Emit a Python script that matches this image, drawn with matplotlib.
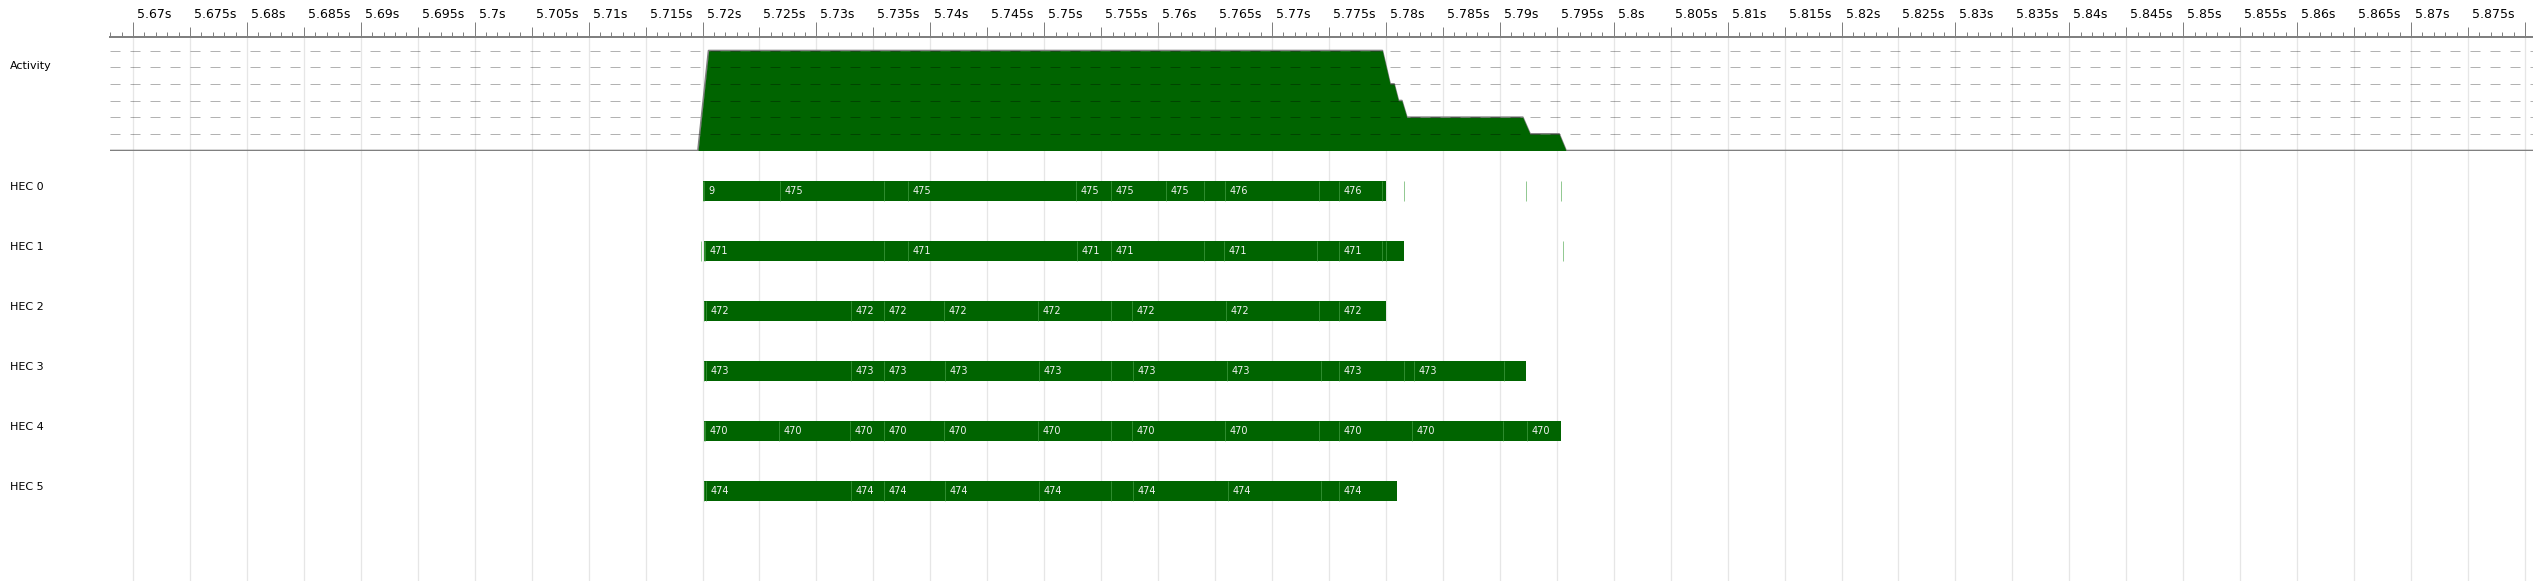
import matplotlib
matplotlib.use('Agg')
import matplotlib.pyplot as plt
import matplotlib.transforms as mtransforms
from matplotlib.ticker import MultipleLocator, FixedLocator
import numpy as np

# time window shown (seconds)
t_min, t_max = 5.66798, 5.88071

# activity = number of busy HECs over time
activity_t = [5.66798, 5.71961, 5.72054, 5.77968, 5.78036, 5.78071, 5.78109, 5.78139,
              5.78183, 5.79201, 5.79265, 5.79520, 5.79581, 5.88071]
activity_n = [0, 0, 6, 6, 4, 4, 3, 3, 2, 2, 1, 1, 0, 0]

lane_names = ['HEC 0', 'HEC 1', 'HEC 2', 'HEC 3', 'HEC 4', 'HEC 5']

# slices per HEC: (start, end, label)
hec0 = [(5.72002, 5.72013, ''), (5.72013, 5.72678, '9'), (5.72678, 5.73596, '475'),
        (5.73596, 5.73802, '475'), (5.73802, 5.75282, '475'), (5.75282, 5.75589, '475'),
        (5.75589, 5.76072, '475'), (5.76072, 5.76406, '475'), (5.76406, 5.76587, '476'),
        (5.76587, 5.77415, '476'), (5.77415, 5.77591, '476'), (5.77591, 5.77968, '476'),
        (5.77968, 5.78001, '476')]
hec1 = [(5.72013, 5.72025, ''), (5.72025, 5.73596, '471'), (5.73596, 5.73807, '471'),
        (5.73807, 5.75291, '471'), (5.75291, 5.75589, '471'), (5.75589, 5.76406, '471'),
        (5.76406, 5.76579, '471'), (5.76579, 5.77398, '471'), (5.77398, 5.77591, '471'),
        (5.77591, 5.77968, '471'), (5.77968, 5.78004, '471'), (5.78004, 5.78162, '471')]
hec2 = [(5.72016, 5.72028, ''), (5.72028, 5.73306, '472'), (5.73306, 5.73596, '472'),
        (5.73596, 5.74123, '472'), (5.74123, 5.74948, '472'), (5.74948, 5.75589, '472'),
        (5.75589, 5.75774, '472'), (5.75774, 5.76594, '472'), (5.76594, 5.77415, '472'),
        (5.77415, 5.77591, '472'), (5.77591, 5.78001, '472')]
hec3 = [(5.72016, 5.72028, ''), (5.72028, 5.73306, '473'), (5.73306, 5.73596, '473'),
        (5.73596, 5.74132, '473'), (5.74132, 5.74957, '473'), (5.74957, 5.75589, '473'),
        (5.75589, 5.75782, '473'), (5.75782, 5.76608, '473'), (5.76608, 5.77433, '473'),
        (5.77433, 5.77591, '473'), (5.77591, 5.78162, '473'), (5.78162, 5.78249, '473'),
        (5.78249, 5.79040, '473'), (5.79040, 5.79230, '473')]
hec4 = [(5.72013, 5.72025, ''), (5.72025, 5.72674, '470'), (5.72674, 5.73298, '470'),
        (5.73298, 5.73596, '470'), (5.73596, 5.74123, '470'), (5.74123, 5.74948, '470'),
        (5.74948, 5.75589, '470'), (5.75589, 5.75768, '470'), (5.75768, 5.76590, '470'),
        (5.76590, 5.77410, '470'), (5.77410, 5.77591, '470'), (5.77591, 5.78232, '470'),
        (5.78232, 5.79031, '470'), (5.79031, 5.79236, '470'), (5.79236, 5.79540, '470')]
hec5 = [(5.72016, 5.72031, ''), (5.72031, 5.73306, '474'), (5.73306, 5.73596, '474'),
        (5.73596, 5.74132, '474'), (5.74132, 5.74957, '474'), (5.74957, 5.75589, '474'),
        (5.75589, 5.75782, '474'), (5.75782, 5.76614, '474'), (5.76614, 5.77433, '474'),
        (5.77433, 5.77591, '474'), (5.77591, 5.78095, '474')]
hec_slices = [hec0, hec1, hec2, hec3, hec4, hec5]

# zero-length events
hec_instants = [[5.78162, 5.79233, 5.79540], [5.71990, 5.79552], [], [], [], []]

GREEN = '#006400'
SEP = '#4ca64c'
GRID = '#e6e6e6'
AXIS = '#808080'

W, H, DPI = 2533, 581, 100
fig = plt.figure(figsize=(W / DPI, H / DPI), dpi=DPI)
px = 72.0 / DPI  # one pixel in points

left = 110 / W
ax_act = fig.add_axes([left, 1 - 150.7 / H, 1 - left, 114 / H])
ax_hec = fig.add_axes([left, 0, 1 - left, 1 - 150.7 / H])

for ax in (ax_act, ax_hec):
    ax.set_xlim(t_min, t_max)
    for s in ax.spines.values():
        s.set_visible(False)

grid_ticks = np.round(np.arange(5.67, t_max, 0.005), 3)

# ---- activity panel ----
ax_act.set_ylim(0, 6.84)
ax_act.set_yticks([])
ax_act.spines['top'].set_visible(True)
ax_act.spines['top'].set_color(AXIS)
ax_act.spines['top'].set_linewidth(2 * px)
ax_act.xaxis.set_major_locator(MultipleLocator(0.01))
ax_act.xaxis.set_minor_locator(MultipleLocator(0.001))
ax_act.tick_params(axis='x', which='both', bottom=False, top=True, labelbottom=False,
                   labeltop=False, direction='out', color=AXIS, width=px)
ax_act.tick_params(axis='x', which='major', length=15 * px)
ax_act.tick_params(axis='x', which='minor', length=5 * px)

sec = ax_act.secondary_xaxis('top')
sec.xaxis.set_major_locator(FixedLocator(grid_ticks))
sec.tick_params(axis='x', length=10 * px, width=px, color=AXIS, labeltop=False)
sec.spines['top'].set_visible(False)

for t in grid_ticks:
    ax_act.axvline(t, color=GRID, lw=1.3 * px, zorder=0)
    ax_hec.axvline(t, color=GRID, lw=1.3 * px, zorder=0)

ax_act.plot(activity_t, activity_n, color=AXIS, lw=2 * px, zorder=1)
ax_act.fill_between(activity_t, activity_n, 0, color=GREEN, lw=0, zorder=2)
for k in range(1, 7):
    ax_act.axhline(k, color='black', alpha=0.3, lw=px, dashes=(10, 10), zorder=3)

# time labels, left aligned just right of the tick
lab_tr = mtransforms.blended_transform_factory(ax_act.transData, ax_act.transAxes) + \
    mtransforms.ScaledTranslation(4 / DPI, 18.4 / DPI, fig.dpi_scale_trans)
for t in grid_ticks:
    if t + 0.004 > t_max:
        continue
    ax_act.text(t, 1, f'{t:g}s', transform=lab_tr, ha='left', va='baseline',
                fontsize=9, color='black', clip_on=False)

name_tr = mtransforms.blended_transform_factory(fig.transFigure, ax_act.transData)
ax_act.text(10 / W, 4.9, 'Activity', transform=name_tr, ha='left', va='baseline', fontsize=8)

# ---- HEC lanes ----
bar_h = 20 / 60
ax_hec.set_ylim(6.5, -0.6717)
ax_hec.set_yticks([])
ax_hec.set_xticks([])

lane_tr = mtransforms.blended_transform_factory(fig.transFigure, ax_hec.transData)
renderer = fig.canvas.get_renderer()
pad = mtransforms.ScaledTranslation(4.5 / DPI, 0, fig.dpi_scale_trans)

for i, slices in enumerate(hec_slices):
    ax_hec.text(10 / W, i - 0.025, lane_names[i], transform=lane_tr, ha='left',
                va='baseline', fontsize=8)
    starts = [s for s, e, lab in slices]
    widths = [e - s for s, e, lab in slices]
    ax_hec.barh([i] * len(slices), widths, left=starts, height=bar_h, color=GREEN,
                lw=0, zorder=2)
    ax_hec.vlines(starts + hec_instants[i], i - bar_h / 2, i + bar_h / 2, color=SEP,
                  alpha=0.6, lw=px, zorder=3)
    for s, e, lab in slices:
        if not lab:
            continue
        txt = ax_hec.text(s, i + 0.05, lab, transform=ax_hec.transData + pad,
                          ha='left', va='baseline', fontsize=7, color='#f2f2f2', zorder=4)
        w_text = txt.get_window_extent(renderer).width
        x0 = ax_hec.transData.transform((s, i))[0]
        x1 = ax_hec.transData.transform((e, i))[0]
        if w_text + 9 > x1 - x0:
            txt.remove()

fig.savefig('out.png', dpi=DPI, facecolor='white')
